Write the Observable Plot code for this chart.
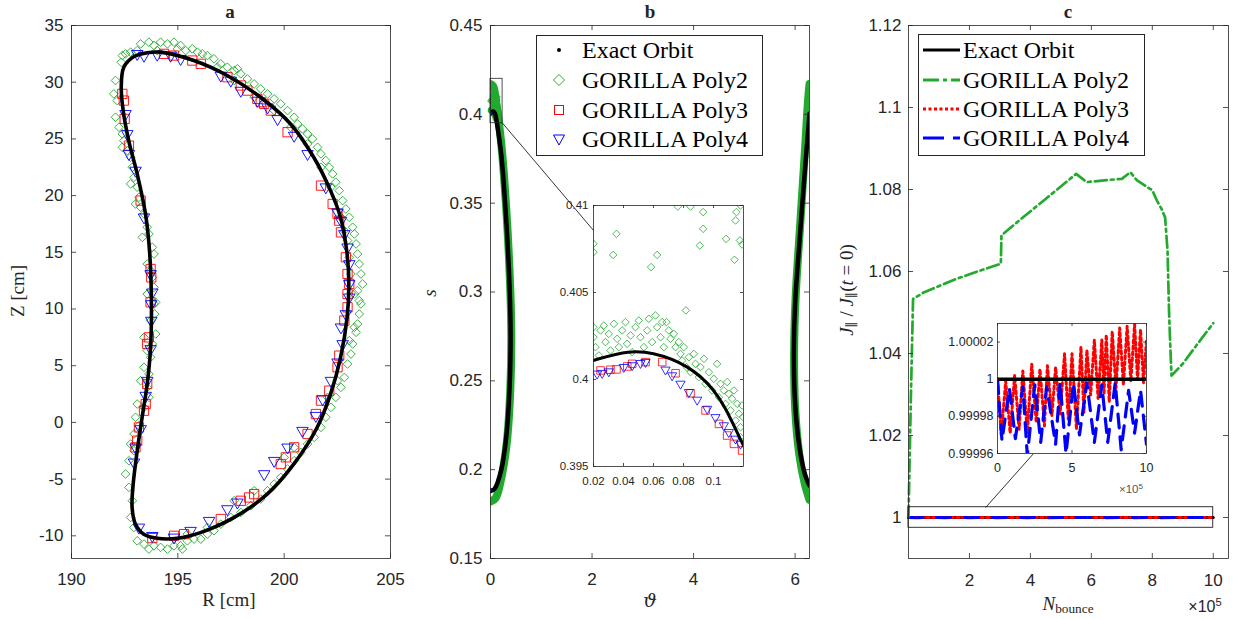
<!DOCTYPE html>
<html><head><meta charset="utf-8">
<script src="https://cdn.jsdelivr.net/npm/d3@7"></script>
<script src="https://cdn.jsdelivr.net/npm/@observablehq/plot@0.6"></script>
<style>
body{margin:0;background:#fff;}
#fig{position:relative;width:1236px;height:619px;overflow:hidden;background:#fff;}
.pl{position:absolute;}
.lbl{position:absolute;transform:translate(-50%,-50%);white-space:nowrap;color:#262626;font-family:"Liberation Serif","DejaVu Serif",serif;line-height:1;}
.rot{transform:translate(-50%,-50%) rotate(-90deg);}
.ttl{font-weight:bold;font-size:19px;}
.ax{font-size:19px;}
sub{font-size:70%;vertical-align:-0.3em;line-height:0;}
sup{font-size:70%;vertical-align:0.5em;line-height:0;}
</style></head>
<body><div id="fig"></div>
<script>
// ---------------- DATA ----------------
// Panel a: exact orbit (R [cm], Z [cm])
const orbitA = [[194.18,32.65],[195.75,31.91],[197.32,30.59],[198.89,28.67],[200.3,26.32],[201.39,23.38],[202.18,20.44],[202.65,18.08],[202.96,14.85],[203.04,12.2],[202.96,9.25],[202.65,5.72],[202.18,2.49],[201.55,-0.45],[200.45,-3.68],[199.2,-6.33],[197.63,-8.4],[196.06,-9.72],[194.97,-10.22],[194.03,-10.22],[193.4,-9.86],[193.01,-8.98],[192.85,-7.51],[192.9,-5.45],[193.09,-2.51],[193.32,0.43],[193.56,3.38],[193.71,6.32],[193.76,10.14],[193.68,14.85],[193.48,18.38],[193.09,21.91],[192.69,24.85],[192.43,27.5],[192.34,29.56],[192.46,31.32],[192.94,32.26],[193.56,32.59]];
const greenA = [[192.39,32.35],[192.34,31.76],[192.54,32.5],[192.78,32.65],[193.25,33.38],[193.64,33.53],[193.88,33.24],[194.19,33.53],[194.51,33.38],[194.82,33.53],[195.13,33.24],[194.98,32.94],[194.03,32.79],[193.09,32.79],[195.37,32.79],[195.68,32.94],[195.92,32.65],[196.15,32.5],[196.39,32.35],[196.7,32.06],[197.02,31.62],[197.33,31.32],[197.65,31.03],[197.8,31.18],[197.96,30.74],[198.27,30.29],[198.59,29.85],[198.9,29.41],[199.22,28.97],[199.53,28.53],[199.84,28.09],[200.16,27.5],[200.47,26.91],[200.63,26.32],[200.86,25.88],[201.1,25.44],[201.33,25.0],[201.57,24.26],[201.73,23.68],[201.96,23.09],[202.12,22.5],[202.28,21.91],[202.43,21.18],[202.59,20.44],[202.75,19.56],[202.9,18.82],[203.06,18.09],[203.22,17.21],[203.3,16.62],[203.38,15.74],[203.45,14.85],[203.53,13.97],[203.61,13.09],[203.69,12.21],[203.45,11.62],[203.53,10.74],[203.3,11.32],[203.14,13.09],[203.06,14.56],[202.98,16.03],[202.83,16.91],[202.67,18.09],[202.2,20.74],[201.73,22.5],[201.1,24.56],[200.31,26.03],[199.53,27.5],[198.59,28.68],[197.65,30.15],[196.86,31.32],
[192.07,30.15],[191.99,28.97],[192.15,28.38],[192.07,26.91],[192.23,26.03],[192.39,25.44],[192.46,24.85],[192.39,24.26],[192.62,23.97],[192.78,23.38],[192.86,22.5],[192.94,21.62],[192.78,21.03],[193.09,20.74],[193.17,19.85],[193.01,19.26],[193.25,18.97],[193.41,18.38],[193.56,17.21],[193.33,16.32],[193.64,16.62],[193.8,15.44],[193.88,14.85],[193.56,13.97],[193.72,13.38],[193.8,12.79],[193.88,11.91],[193.56,11.32],[193.96,10.59],
[193.88,10.45],[193.91,9.56],[193.72,8.98],[193.96,7.8],[193.41,7.5],[193.8,6.92],[193.56,6.33],[193.72,5.74],[193.41,4.86],[193.64,4.27],[193.25,3.68],[193.56,3.09],[193.64,2.21],[193.09,1.62],[193.41,1.33],[193.01,0.45],[193.17,-0.29],[192.94,-1.02],[192.78,-1.91],[192.94,-2.5],[192.7,-3.38],[192.54,-4.55],[192.7,-5.73],[192.86,-6.91],[192.78,-8.38],[192.94,-9.26],[193.09,-10.44],[193.41,-10.73],[193.64,-11.17],[193.88,-10.88],[194.19,-11.02],[194.51,-11.17],[194.82,-10.88],[195.13,-10.88],[195.45,-10.44],[195.76,-10.29],[196.08,-10.29],[196.39,-9.85],[196.7,-9.55],[197.02,-8.97],[197.49,-8.38],[197.96,-7.94],[198.43,-7.35],[198.9,-6.76],[199.22,-6.03],[199.53,-5.44],[199.84,-4.85],[200.16,-4.11],[200.47,-3.38],[200.78,-2.64],[201.1,-1.91],[201.41,-1.32],[201.73,-0.44],[201.96,0.45],[202.2,1.33],[202.43,2.21],[202.67,3.09],[202.83,3.97],[202.98,5.15],[203.14,6.03],[203.22,6.92],[203.38,7.95],[203.45,8.68],[203.53,9.56],[203.61,10.45],[203.3,8.39],[203.06,7.21],[202.51,3.68],[202.04,2.21],[200.47,-2.2],[200.0,-3.08],[198.59,-6.03],[197.65,-6.91],[196.39,-9.26],[195.45,-9.85],[195.21,-11.17]];
const redA = [[192.39,28.97],[192.46,28.38],[192.5,26.76],[192.7,24.41],[193.25,19.56],[193.72,13.53],[193.75,12.79],[194.35,32.5],[194.82,32.35],[195.68,31.91],[196.08,31.62],[197.33,30.44],[197.96,29.71],[198.27,29.26],[198.74,28.53],[198.9,28.24],[199.06,28.09],[199.37,27.5],[200.16,25.59],[201.73,20.88],[202.28,19.26],[202.51,18.38],[202.59,17.79],[202.67,16.76],[202.9,14.56],[202.98,13.09],[203.06,12.21],[202.98,11.32],
[193.72,10.59],[193.64,7.5],[193.56,6.92],[193.56,3.39],[193.49,1.62],[193.41,1.03],[193.17,-0.44],[193.09,-1.61],[193.01,-2.2],[193.8,-10.2],[194.82,-10.0],[195.29,-9.85],[197.02,-8.52],[197.96,-6.91],[198.35,-6.62],[198.59,-6.32],[199.84,-3.67],[200.08,-3.08],[200.47,-2.2],[201.1,-1.02],[201.49,0.74],[201.73,1.92],[202.12,2.8],[202.51,4.86],[202.59,5.89],[202.83,8.98],[202.98,10.15]];
const blueA = [[193.09,32.5],[193.41,32.35],[194.03,32.44],[194.66,32.35],[195.13,32.06],[197.02,30.59],[197.49,30.15],[197.96,29.26],[198.74,28.38],[199.22,27.79],[199.69,26.76],[200.47,25.29],[201.1,23.68],[201.96,20.74],[202.51,18.53],[202.67,17.79],[202.83,16.62],[202.98,15.44],[203.06,13.97],[203.06,12.21],[203.06,11.03],[192.54,27.21],[192.62,25.44],[192.7,23.68],[193.01,22.21],[193.41,18.09],[193.72,13.09],[193.8,11.47],[193.75,10.44],
[193.75,8.98],[193.72,6.48],[193.56,3.68],[193.49,2.36],[193.25,-0.58],[193.01,-2.2],[192.94,-3.52],[193.17,-9.26],[193.8,-10.0],[194.82,-10.14],[195.6,-9.55],[196.47,-8.67],[197.33,-7.64],[197.8,-7.05],[199.06,-4.55],[199.53,-3.38],[200.16,-2.2],[200.86,-0.73],[201.49,0.59],[201.81,2.06],[202.2,3.68],[202.51,5.3],[202.75,6.92],[202.67,8.39],[202.9,9.56]];

// Panel b: (theta, s)
const orbitBLeft = [[0.0,0.4005],[0.02,0.4011],[0.043,0.40157],[0.06,0.40148],[0.0825,0.40071],[0.1,0.39937],[0.12,0.3962],[0.21,0.3779],[0.31,0.3403],[0.376,0.3027],[0.396,0.2746],[0.376,0.2465],[0.31,0.2183],[0.21,0.1996],[0.08,0.1892],[0.0,0.188]];
const orbitBRight = [[6.2832,0.4003],[6.19,0.3676],[6.09,0.3298],[6.0,0.2934],[5.975,0.2652],[6.0,0.2371],[6.085,0.2127],[6.19,0.1977],[6.2832,0.191]];
const greenBLeft = [[0.0,0.417],[0.05,0.416],[0.12,0.405],[0.21,0.384],[0.31,0.347],[0.385,0.305],[0.41,0.275],[0.39,0.245],[0.32,0.215],[0.21,0.195],[0.1,0.184],[0.0,0.182]];
const greenBBlob = [[0.0,0.408],[0.07,0.41],[0.14,0.4]];
const greenBRight = [[6.2832,0.417],[6.25,0.406],[6.19,0.378],[6.1,0.338],[6.01,0.297],[5.98,0.265],[6.0,0.235],[6.08,0.209],[6.19,0.192],[6.2832,0.183]];
const blueBEnds = [[0.0,0.4008],[0.0,0.1885]];
const insetGreen = [[0.02,0.4078],[0.02,0.40732],[0.0353,0.40837],[0.0331,0.40716],[0.0624,0.40716],[0.0584,0.40646],[0.0762,0.40994],[0.0847,0.40994],[0.0931,0.40962],[0.0931,0.40866],[0.0909,0.4077],[0.1084,0.40808],[0.118,0.41],[0.1153,0.40962],[0.1147,0.40914],[0.1176,0.40799],[0.1191,0.40776],[0.114,0.40688],[0.0816,0.40397],
[0.02,0.40301],[0.02,0.40243],[0.0213,0.40186],[0.0236,0.40138],[0.0247,0.40282],[0.0269,0.4031],[0.028,0.40215],[0.0302,0.40262],[0.0313,0.40167],[0.0336,0.4032],[0.0358,0.40234],[0.0369,0.40186],[0.0391,0.40282],[0.0413,0.4033],[0.0424,0.40205],[0.0447,0.40253],[0.0458,0.40157],[0.048,0.40301],[0.0502,0.40339],[0.0513,0.40243],[0.0536,0.40186],[0.0558,0.40282],[0.0569,0.40349],[0.0591,0.40215],[0.0613,0.40368],[0.0624,0.40301],[0.0647,0.40243],[0.0658,0.4033],[0.0669,0.40186],[0.0687,0.4033],[0.0702,0.40282],[0.0713,0.40234],[0.0736,0.40262],[0.0747,0.40186],[0.0769,0.40215],[0.078,0.40147],[0.0791,0.40109],[0.0802,0.40186],[0.082,0.40071],[0.0836,0.40128],[0.0847,0.40042],[0.0869,0.40147],[0.088,0.4009],[0.0902,0.40013],[0.0913,0.40071],[0.0936,0.40119],[0.0947,0.39975],[0.0969,0.40042],[0.0991,0.39937],[0.1002,0.40004],[0.1024,0.4009],[0.1036,0.39898],[0.1047,0.39975],[0.1069,0.39937],[0.108,0.3986],[0.1091,0.39985],[0.1102,0.39918],[0.1113,0.39822],[0.1124,0.39889],[0.1136,0.39937],[0.1147,0.39764],[0.1158,0.3986],[0.1169,0.39803],[0.118,0.39726],[0.1191,0.39851],[0.118,0.39669],[0.1198,0.39784]];
const insetRed = [[0.0247,0.40052],[0.0313,0.40056],[0.0353,0.40058],[0.0425,0.40075],[0.0458,0.4009],[0.0547,0.401],[0.0658,0.401],[0.0747,0.40036],[0.0847,0.39921],[0.0947,0.39822],[0.1036,0.39745],[0.1091,0.39678],[0.1136,0.3963],[0.1191,0.39592]];
const insetBlue = [[0.0224,0.40033],[0.0258,0.40037],[0.0302,0.40046],[0.0402,0.40071],[0.0458,0.40081],[0.0513,0.40094],[0.0547,0.401],[0.068,0.40056],[0.0724,0.40023],[0.078,0.39975],[0.0836,0.39927],[0.0891,0.39883],[0.0958,0.39831],[0.1013,0.39783],[0.1069,0.39736],[0.1102,0.39697],[0.1147,0.39659],[0.118,0.3963]];
const zoomBoxB = [{x1:0, x2:0.238, y1:0.395, y2:0.42}];
const connectorB = [[0.238,0.395],[2.03,0.3346]];

// Panel c: (N_bounce / 1e5, J/J0)
const exactC = [[0,1],[10,1]];
const poly2C = [[0,1.0],[0.08,1.03],[0.15,1.0533],[0.5,1.0549],[1.5,1.058],[2.3,1.0601],[3.03,1.0619],[3.05,1.0688],[3.69,1.0728],[4.5,1.0777],[5.5,1.0838],[5.85,1.0818],[6.5,1.0823],[7.0,1.0826],[7.28,1.0842],[7.5,1.0822],[8.0,1.0798],[8.15,1.0773],[8.3,1.0753],[8.42,1.0732],[8.5,1.065],[8.55,1.05],[8.6,1.04],[8.63,1.0346],[9.0,1.0375],[9.5,1.0425],[10.0,1.0474]];
const poly3C = [[0,1.0],[0.25,0.9999702],[0.55,0.9999989],[0.85,0.999971],[1.15,1.000002],[1.45,0.999973],[1.7,1.0000044],[2.0,0.9999711],[2.3,1.0000081],[2.6,0.9999767],[2.85,1.0000054],[3.15,0.9999748],[3.35,1.0000072],[3.65,0.9999804],[3.9,1.0000063],[4.2,0.9999813],[4.5,1.0000137],[4.75,0.9999785],[5.0,1.0000137],[5.3,0.999973],[5.6,1.0000174],[5.8,0.9999822],[6.0,1.0000156],[6.25,0.9999915],[6.5,1.0000211],[6.75,0.9999896],[7.0,1.0000211],[7.15,0.9999924],[7.3,1.0000239],[7.5,0.9999878],[7.7,1.0000257],[7.95,0.9999952],[8.2,1.0000276],[8.45,0.999997],[8.7,1.0000285],[8.95,0.9999989],[9.2,1.0000295],[9.4,0.9999998],[9.6,1.0000267],[9.8,0.999998],[10,1.0000211]];
const poly4C = [[0,1.0],[0.3,0.999967],[0.8,0.999995],[1.2,0.999968],[1.7,0.999996],[2.0,0.999959],[2.5,0.999997],[2.9,0.999966],[3.3,0.999996],[3.9,0.999965],[4.2,0.999998],[4.6,0.99996],[5.1,0.999998],[5.5,0.99997],[6.0,0.999998],[6.5,0.999966],[7.0,0.999997],[7.4,0.999966],[7.9,0.999998],[8.3,0.999962],[8.8,0.999994],[9.2,0.999971],[9.6,0.999994],[10,0.999965]];
const zoomBoxC = [{x1:0, x2:10, y1:0.9975, y2:1.0025}];
const connectorC = [[2.54,1.0025],[4.08,1.0154]];

// ticks
const ticksAx = [190,195,200,205], ticksAy = [-10,-5,0,5,10,15,20,25,30,35];
const ticksBx = [0,2,4,6], ticksBy = [0.15,0.2,0.25,0.3,0.35,0.4,0.45];
const ticksCx = [2,4,6,8,10], ticksCy = [1,1.02,1.04,1.06,1.08,1.1,1.12];
const ticksBix = [0.02,0.04,0.06,0.08,0.1], ticksBiy = [0.395,0.4,0.405,0.41];
const ticksCix = [0,5,10], ticksCiy = [0.99996,0.99998,1,1.00002];
const legendLabels = ["Exact Orbit","GORILLA Poly2","GORILLA Poly3","GORILLA Poly4"];

// ---------------- STYLE ----------------
const GREEN = "#22aa2e", RED = "#ff0000", BLUE = "#0000ff", AX = "#262626";
const SANS = "'Liberation Sans', Arial, Helvetica, sans-serif";
const SERIF = "'Liberation Serif', 'DejaVu Serif', serif";
const downTri = {draw(ctx, size){const s=Math.sqrt(size)*0.6824,t=s/2,u=s*Math.sqrt(3)/2;ctx.moveTo(0,s);ctx.lineTo(u,-t);ctx.lineTo(-u,-t);ctx.closePath();}};
const X = d => d[0], Y = d => d[1];
const fmt = p => d => String(+d.toFixed(p));

function inner(xt, yt, fw, fh, len){
  const o = {stroke: AX, strokeWidth: 0.8};
  return [
    Plot.tickX(xt, {x: d=>d, insetTop: fh-len, ...o}),
    Plot.tickX(xt, {x: d=>d, insetBottom: fh-len, ...o}),
    Plot.tickY(yt, {y: d=>d, insetRight: fw-len, ...o}),
    Plot.tickY(yt, {y: d=>d, insetLeft: fw-len, ...o})
  ];
}
function make(c){
  const fw = c.width-c.ml-c.mr, fh = c.height-c.mt-c.mb;
  return Plot.plot({
    width:c.width, height:c.height, marginLeft:c.ml, marginRight:c.mr, marginTop:c.mt, marginBottom:c.mb,
    x:{domain:c.xd}, y:{domain:c.yd},
    style:{fontFamily:SANS, fontSize:c.fs+"px", color:AX, background:"transparent", overflow:"visible"},
    marks:[
      c.bg ? Plot.frame({fill:"white"}) : null,
      ...c.marks,
      ...inner(c.xt, c.yt, fw, fh, c.tl),
      Plot.frame({stroke:AX, strokeWidth:0.8}),
      Plot.axisX(c.xl || c.xt, {anchor:"bottom", tickSize:0, tickPadding:c.xp, tickFormat:c.xf, label:null, fontSize:c.fs}),
      Plot.axisY(c.yl || c.yt, {anchor:"left", tickSize:0, tickPadding:c.yp, tickFormat:c.yf, label:null, fontSize:c.fs})
    ]
  });
}
const fig = document.getElementById("fig");
function place(node, left, top){const d=document.createElement("div");d.className="pl";d.style.left=left+"px";d.style.top=top+"px";d.appendChild(node);fig.appendChild(d);}
function label(html, x, y, cls){const d=document.createElement("div");d.className="lbl "+(cls||"");d.style.left=x+"px";d.style.top=y+"px";d.innerHTML=html;fig.appendChild(d);}

// ---------------- PANEL a ----------------
place(make({width:410,height:619,ml:71,mr:20,mt:25,mb:61,xd:[190,205],yd:[-12,35],fs:17,tl:5,xp:14,yp:8,
  xt:ticksAx, yt:ticksAy, xf:String, yf:String,
  marks:[
    Plot.dot(greenA,{x:X,y:Y,symbol:"diamond2",r:3.9,stroke:GREEN,fill:"none",strokeWidth:0.9}),
    Plot.dot(redA,{x:X,y:Y,symbol:"square2",r:5.9,stroke:RED,fill:"none",strokeWidth:0.9}),
    Plot.dot(blueA,{x:X,y:Y,symbol:downTri,r:5.5,stroke:BLUE,fill:"none",strokeWidth:0.9}),
    Plot.line(orbitA,{x:X,y:Y,stroke:"black",strokeWidth:3.6,curve:"catmull-rom-closed"})
  ]}), 0, 0);

// ---------------- PANEL b ----------------
place(make({width:410,height:619,ml:80,mr:11,mt:25,mb:61,xd:[0,2*Math.PI],yd:[0.15,0.45],fs:17,tl:5,xp:14,yp:8,
  xt:ticksBx, yt:ticksBy, xf:String, yf:fmt(2),
  marks:[
    Plot.dot(insetGreen,{x:X,y:Y,symbol:"diamond2",r:3.2,stroke:GREEN,fill:"none",strokeWidth:0.8}),
    Plot.line(greenBLeft,{x:X,y:Y,stroke:GREEN,strokeWidth:8,curve:"catmull-rom",strokeLinecap:"round",clip:true}),
    Plot.line(greenBBlob,{x:X,y:Y,stroke:GREEN,strokeWidth:8,curve:"catmull-rom",strokeLinecap:"round",clip:true}),
    Plot.line(greenBRight,{x:X,y:Y,stroke:GREEN,strokeWidth:8,curve:"catmull-rom",strokeLinecap:"round",clip:true}),
    Plot.line(orbitBLeft,{x:X,y:Y,stroke:"black",strokeWidth:4.5,curve:"catmull-rom",clip:true}),
    Plot.line(orbitBRight,{x:X,y:Y,stroke:"black",strokeWidth:4.5,curve:"catmull-rom",clip:true}),
    Plot.dot(blueBEnds,{x:X,y:Y,r:2,fill:BLUE,clip:true}),
    Plot.rect(zoomBoxB,{x1:"x1",x2:"x2",y1:"y1",y2:"y2",fill:"none",stroke:AX,strokeWidth:0.8}),
    Plot.line(connectorB,{x:X,y:Y,stroke:"black",strokeWidth:0.8})
  ]}), 410, 0);

// inset b
place(make({width:205,height:301,ml:50,mr:5,mt:10,mb:30,xd:[0.02,0.12],yd:[0.395,0.41],fs:11.5,tl:3,xp:10,yp:5,bg:true,
  xt:ticksBix, yt:ticksBiy, xf:fmt(2), yf:fmt(3),
  marks:[
    Plot.dot(insetGreen,{x:X,y:Y,symbol:"diamond2",r:3.4,stroke:GREEN,fill:"none",strokeWidth:0.8,clip:true}),
    Plot.dot(insetRed,{x:X,y:Y,symbol:"square2",r:4.8,stroke:RED,fill:"none",strokeWidth:0.8,clip:true}),
    Plot.dot(insetBlue,{x:X,y:Y,symbol:downTri,r:4.4,stroke:BLUE,fill:"none",strokeWidth:0.8,clip:true}),
    Plot.line(orbitBLeft,{x:X,y:Y,stroke:"black",strokeWidth:3,curve:"catmull-rom",clip:true})
  ]}), 543, 195);

// ---------------- PANEL c ----------------
place(make({width:406,height:619,ml:78,mr:8,mt:25,mb:61,xd:[0,10.5],yd:[0.99,1.12],fs:17,tl:5,xp:15,yp:7,
  xt:ticksCx, yt:ticksCy, xf:String, yf:fmt(2),
  marks:[
    Plot.line(exactC,{x:X,y:Y,stroke:"black",strokeWidth:3}),
    Plot.line(poly3C,{x:X,y:Y,stroke:RED,strokeWidth:3,strokeDasharray:"3,3"}),
    Plot.line(poly4C,{x:X,y:Y,stroke:BLUE,strokeWidth:3,strokeDasharray:"14,14"}),
    Plot.line(poly2C,{x:X,y:Y,stroke:GREEN,strokeWidth:2.7,strokeDasharray:"12,4,3,4"}),
    Plot.rect(zoomBoxC,{x1:"x1",x2:"x2",y1:"y1",y2:"y2",fill:"none",stroke:"black",strokeWidth:0.8}),
    Plot.line(connectorC,{x:X,y:Y,stroke:"black",strokeWidth:0.8})
  ]}), 830, 0);

// inset c
place(make({width:224,height:185,ml:65,mr:10,mt:10,mb:45,xd:[0,10],yd:[0.99996,1.00003],fs:12.5,tl:3,xp:10,yp:4,bg:true,
  xt:ticksCix, yt:ticksCiy, xf:String, yf:fmt(5),
  marks:[
    Plot.line(poly3C,{x:X,y:Y,stroke:RED,strokeWidth:3,strokeDasharray:"3,3",clip:true}),
    Plot.line(poly4C,{x:X,y:Y,stroke:BLUE,strokeWidth:3.2,strokeDasharray:"14,9",clip:true}),
    Plot.line(exactC,{x:X,y:Y,stroke:"black",strokeWidth:3.5,clip:true})
  ]}), 932, 313);

// ---------------- LEGENDS ----------------
function legend(left, top, w, h, rows, drawSwatch, textX){
  const svg = d3.create("svg").attr("width", w).attr("height", h).style("position","absolute").style("left",left+"px").style("top",top+"px");
  svg.append("rect").attr("x",0.5).attr("y",0.5).attr("width",w-1).attr("height",h-1).attr("fill","white").attr("stroke",AX).attr("stroke-width",1);
  legendLabels.forEach((t,i) => {
    const g = svg.append("g").attr("transform", `translate(0,${rows[i]})`);
    drawSwatch(g, i);
    g.append("text").attr("x", textX).attr("y", 0).attr("dy","0.35em").attr("font-family",SERIF).attr("font-size",24).attr("fill","#000").text(t);
  });
  fig.appendChild(svg.node());
}
legend(536, 35, 227, 121, [15,45,75,104], (g,i) => {
  const cx = 23;
  if (i===0) g.append("circle").attr("cx",cx).attr("cy",0).attr("r",2).attr("fill","black");
  if (i===1) g.append("path").attr("d",`M${cx},-5.5L${cx+5.5},0L${cx},5.5L${cx-5.5},0Z`).attr("fill","none").attr("stroke",GREEN);
  if (i===2) g.append("rect").attr("x",cx-4.5).attr("y",-4.5).attr("width",9).attr("height",9).attr("fill","none").attr("stroke",RED);
  if (i===3) g.append("path").attr("d",`M${cx},6L${cx+5.5},-4L${cx-5.5},-4Z`).attr("fill","none").attr("stroke",BLUE);
}, 46);
legend(918, 34, 227, 122, [16,46,75,104], (g,i) => {
  const st = [["black",3,null],[GREEN,3,"16,4,4,4"],[RED,3,"3,2.5"],[BLUE,3,"21,9"]][i];
  g.append("line").attr("x1",5).attr("x2",42).attr("y1",0).attr("y2",0).attr("stroke",st[0]).attr("stroke-width",st[1]).attr("stroke-dasharray",st[2]);
}, 45);

// ---------------- TEXT LABELS ----------------
label("a", 230, 11, "ttl");
label("b", 650, 11, "ttl");
label("c", 1068, 11, "ttl");
label("R [cm]", 229, 599, "ax");
label("Z [cm]", 17, 291, "ax rot");
label("<i>s</i>", 429, 293, "ax rot");
label("<i style='font-family:\"DejaVu Serif\",serif'>ϑ</i>", 650, 600, "ax");
label("<i>J</i><sub>∥</sub> / <i>J</i><sub>∥</sub>(<i>t</i> = 0)", 846, 290, "ax rot");
label("<i>N</i><sub>bounce</sub>", 1068, 603, "ax");
label("<span style='font-family:Liberation Sans,Arial,sans-serif;font-size:16px'>×10<sup>5</sup></span>", 1205, 607, "");
label("<span style='font-family:Liberation Sans,Arial,sans-serif;font-size:11.5px;color:#555'>×10<sup>5</sup></span>", 1131, 488, "");
</script></body></html>
